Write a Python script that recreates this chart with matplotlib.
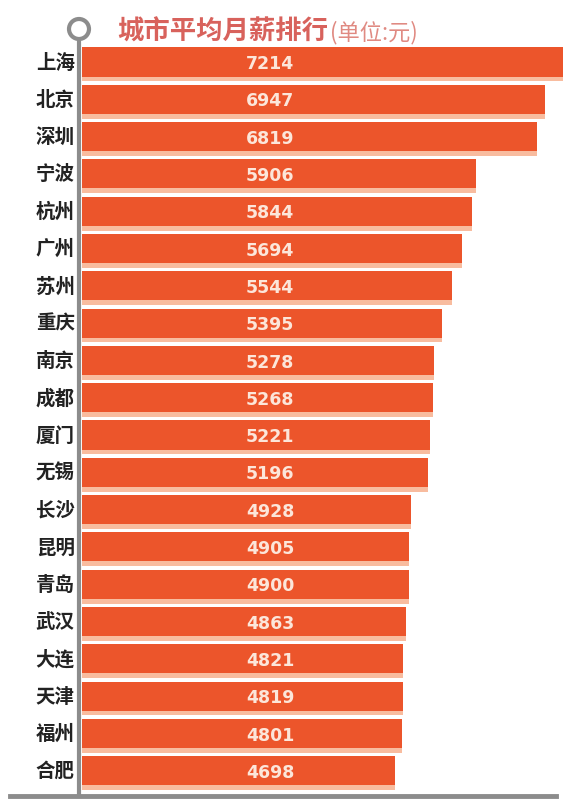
import matplotlib.pyplot as plt
from matplotlib.patches import Circle
from matplotlib.lines import Line2D

plt.rcParams['font.family'] = ['Noto Sans CJK SC', 'DejaVu Sans']

cities = ['上海', '北京', '深圳', '宁波', '杭州', '广州', '苏州', '重庆', '南京', '成都',
          '厦门', '无锡', '长沙', '昆明', '青岛', '武汉', '大连', '天津', '福州', '合肥']
salary = [7214, 6947, 6819, 5906, 5844, 5694, 5544, 5395, 5278, 5268,
          5221, 5196, 4928, 4905, 4900, 4863, 4821, 4819, 4801, 4698]

W, H = 566, 803
bar_col = '#EC552B'
stripe_col = '#F8BC9F'
grey = '#8C8C8C'

fig = plt.figure(figsize=(W / 100, H / 100), dpi=100)
x0, x1 = 82, 566
y_top, y_bot = 44, 797
ax = fig.add_axes([x0 / W, 1 - y_bot / H, (x1 - x0) / W, (y_bot - y_top) / H])

pitch = 37.3
first = 63
ys = list(range(len(cities)))
# light stripe under each bar
ax.barh([y + 0.42 for y in ys], salary, height=0.2, color=stripe_col, left=0)
ax.barh(ys, salary, height=0.78, color=bar_col, left=0)

ax.set_xlim(0, 7214 * (x1 - x0) / (563 - x0))
ax.set_ylim((y_bot - first) / pitch, -(first - y_top) / pitch)
ax.axis('off')

lab_x = 7214 * (270 - x0) / (563 - x0)
for y, city, v in zip(ys, cities, salary):
    ax.text(lab_x, y + 0.03, str(v), ha='center', va='center', color='#FCE6DA',
            fontsize=12.5, fontweight='bold', family='DejaVu Sans')
    ax.text(-0.015, y, city, transform=ax.get_yaxis_transform(),
            ha='right', va='center', fontsize=14, fontweight='bold', color='#222222')

# vertical guide line, circle and baseline
fig.add_artist(Line2D([79 / W, 79 / W], [1 - 40 / H, 1 - 797 / H], color=grey, lw=3))
fig.add_artist(Line2D([10 / W, 556 / W], [1 - 797 / H, 1 - 797 / H], color=grey, lw=3.5))
circ = Circle((79, H - 30), 10, transform=None, facecolor='white', edgecolor=grey, lw=3, zorder=5)
fig.add_artist(circ)

fig.text(117 / W, 1 - 32 / H, '城市平均月薪排行', ha='left', va='center', fontsize=19,
         fontweight='bold', color='#D8625C')
fig.text(330 / W, 1 - 33 / H, '(单位:元)', ha='left', va='center', fontsize=16,
         color='#E08A82', style='italic')

fig.savefig('out.png', dpi=100)
